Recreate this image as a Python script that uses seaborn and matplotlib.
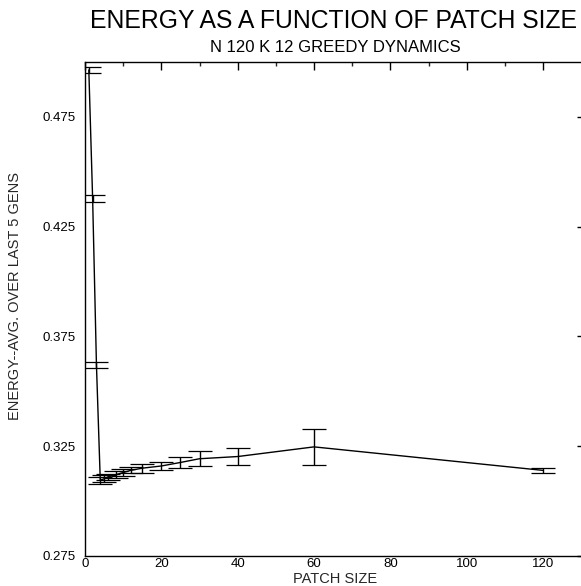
import matplotlib
matplotlib.use("Agg")
import matplotlib.pyplot as plt
from matplotlib.ticker import FixedLocator, NullFormatter
import seaborn as sns
import pandas as pd

# Patch sizes and mean energy over the last 5 generations, with error half-widths
patch_size = [1, 2, 3, 4, 5, 6, 8, 10, 12, 15, 20, 25, 30, 40, 60, 120]
energy = [0.4964, 0.4377, 0.3620, 0.3095, 0.3102, 0.3110, 0.3120, 0.3130,
          0.3140, 0.3150, 0.3160, 0.3176, 0.3193, 0.3203, 0.3247, 0.3140]
energy_err = [0.0015, 0.0016, 0.0012, 0.0016, 0.0015, 0.0015, 0.0015, 0.0015,
              0.0014, 0.0020, 0.0019, 0.0023, 0.0033, 0.0039, 0.0081, 0.0012]

y_major = [0.275, 0.325, 0.375, 0.425, 0.475]
y_minor = [0.300, 0.350, 0.400, 0.450, 0.500]
x_major = [0, 20, 40, 60, 80, 100, 120]
x_minor = [10, 30, 50, 70, 90, 110]

sns.set_theme(style="white")
plt.rcParams["font.family"] = ["Liberation Sans", "DejaVu Sans"]

df = pd.DataFrame({"patch": patch_size, "energy": energy, "err": energy_err})

W, H = 581, 586
left, right, bottom, top = 85, 585, 556, 62
fig = plt.figure(figsize=(W / 100, H / 100), dpi=100)
ax = fig.add_axes([left / W, 1 - bottom / H, (right - left) / W, (bottom - top) / H])

sns.lineplot(data=df, x="patch", y="energy", color="black", linewidth=1.0, ax=ax)
ax.errorbar(df["patch"], df["energy"], yerr=df["err"], fmt="none",
            ecolor="black", elinewidth=1.0, capsize=8.6, capthick=0.9)

ax.set_xlim(0, 131)
ax.set_ylim(0.275, 0.5)

ax.xaxis.set_major_locator(FixedLocator(x_major))
ax.xaxis.set_minor_locator(FixedLocator(x_minor))
ax.yaxis.set_major_locator(FixedLocator(y_major))
ax.yaxis.set_minor_locator(FixedLocator(y_minor))
ax.set_yticklabels([f"{v:.3f}" for v in y_major])
ax.yaxis.set_minor_formatter(NullFormatter())

ax.tick_params(axis="both", which="major", direction="in", length=6, width=1,
               labelsize=9.5, colors="black", top=True, right=True)
ax.tick_params(axis="both", which="minor", direction="in", length=3, width=1,
               top=True, right=True)
ax.tick_params(axis="x", which="major", pad=1.5)
ax.tick_params(axis="y", which="major", pad=7)

for side in ["left", "bottom", "top", "right"]:
    ax.spines[side].set_visible(True)
    ax.spines[side].set_color("black")
    ax.spines[side].set_linewidth(1.0)

ax.set_xlabel("PATCH SIZE", fontsize=10.5)
ax.xaxis.label.set_va("center")
ax.xaxis.set_label_coords((335 - left) / (right - left), -(579 - bottom) / (bottom - top))

ax.set_ylabel("ENERGY--AVG. OVER LAST 5 GENS", fontsize=10.5)
ax.yaxis.label.set_va("center")
ax.yaxis.set_label_coords(-(left - 15) / (right - left), (bottom - 296) / (bottom - top))

fig.text(334 / W, 1 - 21 / H, "ENERGY AS A FUNCTION OF PATCH SIZE", ha="center",
         va="center", fontsize=17.8, color="black")
fig.text(335 / W, 1 - 47 / H, "N 120 K 12 GREEDY DYNAMICS", ha="center",
         va="center", fontsize=12, color="black")

fig.savefig("out.png", dpi=100)
